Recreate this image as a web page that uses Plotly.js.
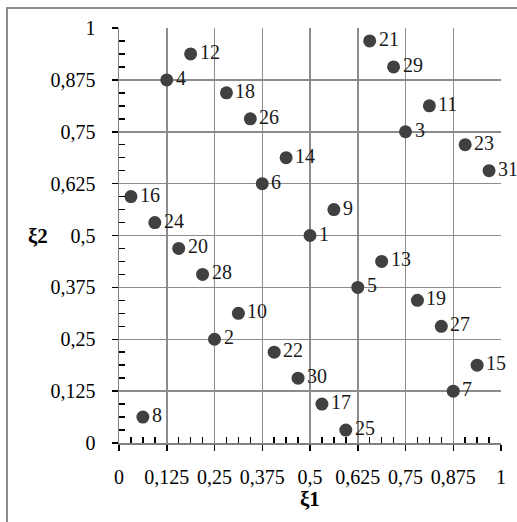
<!DOCTYPE html>
<html><head><meta charset="utf-8">
<script src="https://cdn.plot.ly/plotly-3.0.1.min.js"></script>
<style>html,body{margin:0;padding:0;background:#fff;}#chart{width:517px;height:522px;}</style>
</head><body><div id="chart"></div>
<script>
const pointLabels = ["1","2","3","4","5","6","7","8","9","10","11","12","13","14","15","16","17","18","19","20","21","22","23","24","25","26","27","28","29","30","31"];
const xi1 = [0.5,0.25,0.75,0.125,0.625,0.375,0.875,0.0625,0.5625,0.3125,0.8125,0.1875,0.6875,0.4375,0.9375,0.03125,0.53125,0.28125,0.78125,0.15625,0.65625,0.40625,0.90625,0.09375,0.59375,0.34375,0.84375,0.21875,0.71875,0.46875,0.96875];
const xi2 = [0.5,0.25,0.75,0.875,0.375,0.625,0.125,0.0625,0.5625,0.3125,0.8125,0.9375,0.4375,0.6875,0.1875,0.59375,0.09375,0.84375,0.34375,0.46875,0.96875,0.21875,0.71875,0.53125,0.03125,0.78125,0.28125,0.40625,0.90625,0.15625,0.65625];
const tickVals = [0,0.125,0.25,0.375,0.5,0.625,0.75,0.875,1];
const tickText = ["0","0,125","0,25","0,375","0,5","0,625","0,75","0,875","1"];
const minorTickVals = [0.03125,0.0625,0.09375,0.15625,0.1875,0.21875,0.28125,0.3125,0.34375,0.40625,0.4375,0.46875,0.53125,0.5625,0.59375,0.65625,0.6875,0.71875,0.78125,0.8125,0.84375,0.90625,0.9375,0.96875];
const xTitle = "ξ1", yTitle = "ξ2";

const font = 'Liberation Serif';
const L=119, T=28, W=382, H=415;
const axisCommon = {
  range:[0,1], tickmode:'array', tickvals:tickVals, ticktext:tickText,
  showgrid:true, gridcolor:'#8c8c8c', gridwidth:1.5,
  zeroline:false, showline:true, linecolor:'#808080', linewidth:1.5, mirror:false,
  ticks:'outside', ticklen:6, tickwidth:1.5, tickcolor:'#000',
  minor:{tickmode:'array', tickvals:minorTickVals, ticks:'inside', ticklen:6, tickwidth:1.5, tickcolor:'#000', showgrid:false},
  tickfont:{family:font, size:20, color:'#000'}, fixedrange:true
};
const data = [{
  type:'scatter', mode:'markers', x:xi1, y:xi2,
  cliponaxis:false, marker:{size:13, color:'#404040'}, hoverinfo:'none'
}];
const labelAnns = pointLabels.map((t,i)=>({
  x:xi1[i], y:xi2[i], xref:'x', yref:'y', text:t, showarrow:false,
  xanchor:'left', yanchor:'middle', xshift:8, yshift:2, borderpad:0,
  font:{family:font, size:20, color:'#1a1a1a'}
}));
const layout = {
  width:517, height:522, margin:{l:L, r:517-L-W, t:T, b:522-T-H},
  paper_bgcolor:'#fff', plot_bgcolor:'#fff', showlegend:false,
  font:{family:font},
  xaxis:Object.assign({}, axisCommon, {ticklabelstandoff:9}),
  yaxis:Object.assign({}, axisCommon, {ticklabelstandoff:12}),
  annotations:labelAnns.concat([
    {xref:'paper', yref:'paper', x:0.5, y:-(499-443)/H, text:'<b>'+xTitle+'</b>', showarrow:false, borderpad:0, font:{family:font, size:21, color:'#000'}, xanchor:'center', yanchor:'middle'},
    {xref:'paper', yref:'paper', x:(38-L)/W, y:0.5, text:'<b>'+yTitle+'</b>', showarrow:false, borderpad:0, font:{family:font, size:21, color:'#000'}, xanchor:'center', yanchor:'middle'}
  ]),
  shapes:[
    {type:'rect', xref:'paper', yref:'paper', x0:(7-L)/W, x1:(580-L)/W, y0:-(580-T-H)/H, y1:1+(T-8)/H, line:{color:'#8c8c8c', width:2}, fillcolor:'rgba(0,0,0,0)', layer:'below'}
  ]
};
Plotly.newPlot('chart', data, layout, {staticPlot:true, displayModeBar:false});
</script></body></html>
